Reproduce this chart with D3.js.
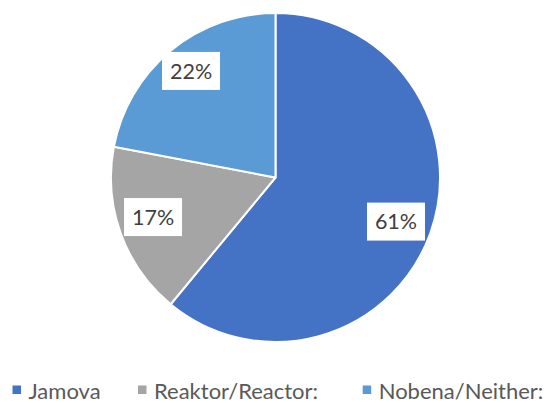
<!DOCTYPE html>
<html><head><meta charset="utf-8">
<script src="https://cdn.jsdelivr.net/npm/d3@7"></script>
<style>body{margin:0;background:#fff}svg{display:block}</style>
</head><body>
<script>
const categories = ["Jamova", "Reaktor/Reactor:", "Nobena/Neither:"];
const values = [61, 17, 22];
const labels = ["61%", "17%", "22%"];
const colors = ["#4472C4", "#A5A5A5", "#5B9BD5"];

const W = 546, H = 403, cx = 275.5, cy = 177.5, R = 164.5;
const svg = d3.select("body").append("svg").attr("width", W).attr("height", H);
const g = svg.append("g").attr("transform", `translate(${cx},${cy})`);
const data = categories.map((c, i) => ({c, v: values[i], l: labels[i], col: colors[i]}));
const pie = d3.pie().value(d => d.v).sort(null);
const arcs = pie(data);
const arc = d3.arc().innerRadius(0).outerRadius(R);
g.selectAll("path").data(arcs).join("path")
  .attr("d", arc).attr("fill", d => d.data.col)
  .attr("stroke", "#fff").attr("stroke-width", 2).attr("stroke-linejoin", "round");
const lr = [128.3, 128.7, 136];
const nudge = [0.3, 1.9, 1.2].map(a => a * Math.PI / 180);
arcs.forEach((a, i) => {
  const m = (a.startAngle + a.endAngle) / 2 + nudge[i];
  const x = Math.sin(m) * lr[i], y = -Math.cos(m) * lr[i];
  const bw = 58, bh = 38;
  g.append("rect").attr("x", x - bw/2).attr("y", y - bh/2).attr("width", bw).attr("height", bh).attr("fill", "#fff");
  g.append("text").attr("x", x).attr("y", y).attr("dy", "0.36em").attr("text-anchor", "middle")
    .attr("font-family", "Lato, 'Open Sans', sans-serif").attr("font-size", 21.5).attr("fill", "#404040").text(a.data.l);
});
const legX = [12.5, 138, 362.7];
const leg = svg.append("g");
data.forEach((d, i) => {
  leg.append("rect").attr("x", legX[i]).attr("y", 385.5).attr("width", 8.5).attr("height", 8.5).attr("fill", d.col);
  leg.append("text").attr("x", legX[i] + 16).attr("y", 398.5)
    .attr("font-family", "Lato, 'Open Sans', sans-serif").attr("font-size", 22).attr("fill", "#595959").text(d.c);
});
</script>
</body></html>
